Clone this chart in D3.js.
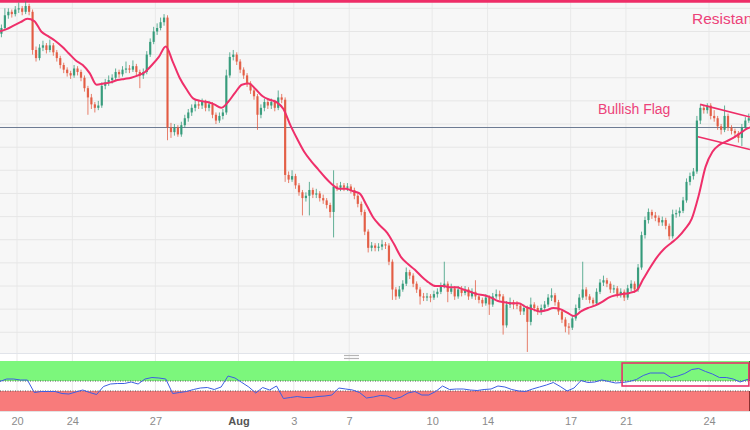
<!DOCTYPE html>
<html>
<head>
<meta charset="utf-8">
<script src="https://cdn.jsdelivr.net/npm/d3@7/dist/d3.min.js"></script>
<style>
    body { margin: 0; background: #ffffff; }
    #chart { width: 750px; height: 430px; }
    text { font-family: "Liberation Sans", Arial, sans-serif; }
</style>
</head>
<body>
<div id="chart"></div>
<script>

/* DATA: 3-hour candles, trading-day index 0 = Jul 20 */
const dayTicks = [0, 2, 5, 8, 10, 12, 15, 17, 20, 22, 25];
const dayLabels = ["20", "24", "27", "Aug", "3", "7", "10", "14", "17", "21", "24"];

const firstOpen = 24.98;
const closes = [
    25.03, 25.14, 25.17, 25.15, 25.19,                              // Jul 19
    25.20, 25.17, 25.22, 25.17, 24.84, 24.77, 24.86, 24.88,         // Jul 20
    24.84, 24.88, 24.82, 24.77, 24.71, 24.67, 24.64, 24.62,         // Jul 21
    24.68, 24.65, 24.60, 24.51, 24.43, 24.37, 24.34, 24.36,         // Jul 24
    24.53, 24.56, 24.58, 24.60, 24.65, 24.63, 24.67, 24.68,         // Jul 25
    24.67, 24.70, 24.65, 24.62, 24.65, 24.80, 24.91, 25.00,         // Jul 26
    25.03, 25.08, 25.12, 24.17, 24.13, 24.17, 24.11, 24.19,         // Jul 27
    24.25, 24.30, 24.34, 24.37, 24.36, 24.39, 24.34, 24.37,         // Jul 28
    24.28, 24.23, 24.27, 24.30, 24.62, 24.78, 24.80, 24.74,         // Jul 31
    24.67, 24.62, 24.55, 24.49, 24.44, 24.28, 24.34, 24.39,         // Aug 1
    24.36, 24.39, 24.34, 24.43, 24.41, 23.76, 23.72, 23.75,         // Aug 2
    23.67, 23.61, 23.56, 23.58, 23.63, 23.59, 23.60, 23.56,         // Aug 3
    23.54, 23.50, 23.44, 23.66, 23.65, 23.67, 23.65, 23.66,         // Aug 4
    23.63, 23.58, 23.51, 23.44, 23.27, 23.13, 23.15, 23.13,         // Aug 7
    23.14, 23.16, 23.15, 23.01, 22.77, 22.71, 22.77, 22.82,         // Aug 8
    22.92, 22.89, 22.82, 22.77, 22.71, 22.70, 22.71, 22.70,         // Aug 9
    22.73, 22.75, 22.80, 22.82, 22.75, 22.78, 22.71, 22.77,         // Aug 10
    22.74, 22.77, 22.71, 22.75, 22.71, 22.68, 22.65, 22.70,         // Aug 11
    22.64, 22.71, 22.73, 22.71, 22.46, 22.64, 22.66, 22.64,         // Aug 14
    22.63, 22.58, 22.61, 22.49, 22.64, 22.61, 22.58, 22.61,         // Aug 15
    22.64, 22.70, 22.72, 22.66, 22.58, 22.51, 22.45, 22.44,         // Aug 16
    22.52, 22.61, 22.70, 22.77, 22.71, 22.68, 22.65, 22.75,         // Aug 17
    22.83, 22.85, 22.82, 22.77, 22.78, 22.73, 22.75, 22.70,         // Aug 18
    22.78, 22.82, 22.77, 22.96, 23.24, 23.37, 23.44, 23.41,         // Aug 21
    23.39, 23.35, 23.37, 23.32, 23.23, 23.42, 23.43, 23.45,         // Aug 22
    23.54, 23.70, 23.75, 23.79, 24.23, 24.34, 24.32, 24.36,         // Aug 23
    24.27, 24.25, 24.18, 24.15, 24.27, 24.17, 24.14, 24.12,         // Aug 24
    24.08, 24.17, 24.23, 24.25                                      // Aug 25
];
const highs = [
    25.06, 25.20, 25.20, 25.19, 25.22,
    25.25, 25.22, 25.26, 25.24, 25.19, 24.87, 24.89, 24.92,
    24.90, 24.93, 24.90, 24.84, 24.79, 24.73, 24.69, 24.66,
    24.71, 24.70, 24.67, 24.62, 24.53, 24.46, 24.39, 24.40,
    24.56, 24.59, 24.62, 24.63, 24.68, 24.67, 24.70, 24.74,
    24.71, 24.75, 24.72, 24.67, 24.68, 24.83, 24.94, 25.04,
    25.07, 25.12, 25.15, 25.14, 24.21, 24.20, 24.19, 24.22,
    24.28, 24.33, 24.37, 24.41, 24.40, 24.42, 24.41, 24.40,
    24.39, 24.30, 24.30, 24.33, 24.67, 24.82, 24.84, 24.82,
    24.76, 24.69, 24.64, 24.57, 24.51, 24.46, 24.37, 24.42,
    24.42, 24.42, 24.41, 24.49, 24.46, 24.43, 23.79, 23.80,
    23.77, 23.69, 23.63, 23.61, 23.70, 23.65, 23.64, 23.62,
    23.59, 23.56, 23.52, 23.80, 23.69, 23.70, 23.69, 23.69,
    23.68, 23.65, 23.60, 23.53, 23.46, 23.29, 23.18, 23.17,
    23.17, 23.20, 23.18, 23.17, 23.03, 22.79, 22.80, 22.85,
    22.96, 22.94, 22.91, 22.84, 22.79, 22.74, 22.74, 22.73,
    22.76, 22.78, 22.83, 23.01, 22.84, 22.82, 22.80, 22.80,
    22.80, 22.80, 22.79, 22.78, 22.85, 22.73, 22.70, 22.73,
    22.72, 22.74, 22.77, 22.76, 22.73, 22.67, 22.70, 22.68,
    22.67, 22.65, 22.64, 22.63, 22.70, 22.66, 22.63, 22.64,
    22.67, 22.73, 22.78, 22.74, 22.68, 22.60, 22.53, 22.48,
    22.55, 22.64, 22.73, 23.01, 22.79, 22.73, 22.70, 22.78,
    22.86, 22.89, 22.87, 22.84, 22.81, 22.80, 22.78, 22.77,
    22.81, 22.85, 22.84, 22.99, 23.27, 23.40, 23.47, 23.46,
    23.44, 23.41, 23.40, 23.39, 23.34, 23.46, 23.46, 23.48,
    23.57, 23.73, 23.78, 23.82, 24.27, 24.37, 24.36, 24.38,
    24.38, 24.32, 24.27, 24.20, 24.36, 24.29, 24.19, 24.16,
    24.14, 24.20, 24.26, 24.29
];
const lows = [
    24.95, 25.01, 25.11, 25.12, 25.13,
    25.16, 25.14, 25.15, 25.14, 24.80, 24.74, 24.75, 24.83,
    24.81, 24.82, 24.79, 24.74, 24.68, 24.64, 24.61, 24.59,
    24.60, 24.62, 24.57, 24.48, 24.28, 24.33, 24.30, 24.32,
    24.34, 24.50, 24.53, 24.55, 24.58, 24.60, 24.61, 24.64,
    24.64, 24.65, 24.62, 24.51, 24.59, 24.63, 24.78, 24.89,
    24.97, 25.01, 25.05, 24.06, 24.08, 24.10, 24.09, 24.09,
    24.17, 24.22, 24.27, 24.31, 24.33, 24.33, 24.31, 24.31,
    24.25, 24.20, 24.21, 24.24, 24.28, 24.60, 24.75, 24.71,
    24.64, 24.59, 24.52, 24.46, 24.41, 24.15, 24.25, 24.31,
    24.33, 24.33, 24.31, 24.32, 24.38, 23.70, 23.69, 23.70,
    23.64, 23.58, 23.41, 23.53, 23.41, 23.56, 23.56, 23.53,
    23.51, 23.47, 23.39, 23.22, 23.62, 23.62, 23.62, 23.62,
    23.60, 23.55, 23.48, 23.41, 23.24, 23.09, 23.10, 23.10,
    23.10, 23.11, 23.12, 22.98, 22.68, 22.68, 22.69, 22.75,
    22.80, 22.86, 22.79, 22.74, 22.64, 22.67, 22.67, 22.66,
    22.68, 22.70, 22.73, 22.78, 22.66, 22.73, 22.68, 22.69,
    22.71, 22.72, 22.68, 22.69, 22.68, 22.65, 22.62, 22.63,
    22.55, 22.62, 22.69, 22.68, 22.38, 22.44, 22.61, 22.60,
    22.60, 22.55, 22.55, 22.23, 22.46, 22.58, 22.55, 22.55,
    22.58, 22.62, 22.67, 22.63, 22.55, 22.48, 22.40, 22.38,
    22.42, 22.50, 22.59, 22.68, 22.68, 22.65, 22.62, 22.63,
    22.73, 22.80, 22.79, 22.74, 22.74, 22.70, 22.70, 22.67,
    22.68, 22.75, 22.74, 22.75, 22.94, 23.21, 23.34, 23.38,
    23.36, 23.32, 23.32, 23.29, 23.20, 23.21, 23.39, 23.40,
    23.43, 23.52, 23.67, 23.72, 23.77, 24.20, 24.29, 24.29,
    24.24, 24.22, 24.15, 24.11, 24.13, 24.14, 24.11, 24.08,
    24.04, 24.01, 24.15, 24.21
];

/* moving average and RSI, 4 readings per day */
const maValues = [
    25.00, 25.02, 25.05, 25.08, 25.11, 25.09, 25.00, 24.96, 24.92, 24.87,
    24.81, 24.75, 24.71, 24.64, 24.54, 24.55, 24.56, 24.58, 24.59, 24.60,
    24.62, 24.65, 24.71, 24.78, 24.87, 24.74, 24.60, 24.50, 24.42, 24.40,
    24.39, 24.37, 24.34, 24.39, 24.47, 24.54, 24.55, 24.50, 24.44, 24.41,
    24.39, 24.33, 24.19, 24.07, 23.96, 23.88, 23.81, 23.74, 23.68, 23.64,
    23.64, 23.62, 23.60, 23.50, 23.39, 23.32, 23.26, 23.16, 23.05, 22.99,
    22.94, 22.88, 22.83, 22.80, 22.80, 22.79, 22.79, 22.77, 22.75, 22.73,
    22.72, 22.70, 22.67, 22.66, 22.65, 22.65, 22.62, 22.60, 22.58, 22.59,
    22.61, 22.60, 22.57, 22.54, 22.58, 22.61, 22.63, 22.66, 22.70, 22.72,
    22.73, 22.74, 22.76, 22.86, 22.96, 23.05, 23.12, 23.17, 23.22, 23.29,
    23.38, 23.58, 23.83, 23.96, 24.02, 24.05, 24.08, 24.12, 24.16, 24.18
];
const rsiValues = [
    59, 64, 64, 62, 62, 37, 39, 39, 39, 35,
    34, 38, 42, 37, 33, 49, 54, 55, 55, 58,
    54, 64, 67, 66, 64, 35, 37, 39, 43, 46,
    47, 43, 48, 70, 66, 57, 48, 36, 47, 42,
    50, 25, 27, 29, 27, 27, 29, 30, 32, 46,
    44, 42, 37, 26, 28, 31, 30, 24, 28, 36,
    39, 32, 32, 39, 50, 43, 44, 44, 42, 41,
    43, 44, 50, 48, 43, 40, 39, 44, 48, 52,
    57, 49, 40, 46, 61, 57, 58, 62, 59, 56,
    57, 59, 63, 71, 76, 76, 76, 67, 70, 75,
    83, 85, 79, 74, 67, 67, 64, 58, 63, 63
];

/* annotations */
const resistanceLevel = 25.26;
const pivotLevel = 24.17;
const flagTop = [[24.68, 24.37], [26.48, 24.26]];
const flagBottom = [[24.60, 24.09], [26.48, 23.98]];
const rsiBoxDays = [21.86, 26.44];
const rsiBoxLevels = [50, 96];
const rsiBands = [40, 60];

/* DIMENSIONS */
const width = 750;
const height = 430;
const mainBottom = 353;
const rsiTop = 361;
const rsiBottom = 411;
const candleStart = -0.625;
const candlesPerDay = 8;
const indicatorStep = 0.25;

const svg = d3.select("#chart")
    .append("svg")
    .attr("width", width)
    .attr("height", height);

/* SCALES */
const xScale = d3.scaleLinear().domain([0, 25]).range([17, 709]);
const yScale = d3.scaleLinear().domain([22.221, 25.272]).range([mainBottom, 0]);
const rsiScale = d3.scaleLinear().domain([0, 100]).range([rsiBottom, rsiTop]);

/* BACKGROUND + GRID */
svg.append("rect")
    .attr("x", 0).attr("y", 0)
    .attr("width", width).attr("height", mainBottom)
    .attr("fill", "#f7f7f7");

svg.selectAll(".vgrid")
    .data(dayTicks)
    .enter()
    .append("line")
    .attr("x1", d => xScale(d)).attr("x2", d => xScale(d))
    .attr("y1", 0).attr("y2", rsiBottom)
    .attr("stroke", "#e9e9e9")
    .attr("stroke-width", 1);

svg.selectAll(".hgrid")
    .data(d3.range(22.4, 25.21, 0.2))
    .enter()
    .append("line")
    .attr("x1", 0).attr("x2", width)
    .attr("y1", d => yScale(d)).attr("y2", d => yScale(d))
    .attr("stroke", "#e6e6e6")
    .attr("stroke-width", 1);

svg.append("line")
    .attr("x1", 0).attr("x2", width)
    .attr("y1", mainBottom + 0.5).attr("y2", mainBottom + 0.5)
    .attr("stroke", "#e1e4ea");

// pane resize handle
[355.5, 358.5].forEach(function(y) {
    svg.append("line")
        .attr("x1", 344).attr("x2", 359)
        .attr("y1", y).attr("y2", y)
        .attr("stroke", "#b5b5b5")
        .attr("stroke-width", 1.2);
});

/* CLIP FOR PRICE PANE */
svg.append("clipPath").attr("id", "mainClip")
    .append("rect")
    .attr("x", 0).attr("y", 0)
    .attr("width", width).attr("height", mainBottom);

const main = svg.append("g").attr("clip-path", "url(#mainClip)");

/* RESISTANCE + PIVOT LINES */
main.append("line")
    .attr("x1", 0).attr("x2", width)
    .attr("y1", yScale(resistanceLevel)).attr("y2", yScale(resistanceLevel))
    .attr("stroke", "#ee2d67")
    .attr("stroke-width", 2.6);

main.append("line")
    .attr("x1", 0).attr("x2", width)
    .attr("y1", yScale(pivotLevel)).attr("y2", yScale(pivotLevel))
    .attr("stroke", "#6d7b93")
    .attr("stroke-width", 1);

/* DRAW CANDLES */
const candles = closes.map(function(c, i) {
    return {
        t: candleStart + (i + 0.5) / candlesPerDay,
        o: i === 0 ? firstOpen : closes[i - 1],
        h: highs[i],
        l: lows[i],
        c: c
    };
});

const upColor = "#2f9877";
const downColor = "#e2583e";

main.selectAll(".wick")
    .data(candles)
    .enter()
    .append("line")
    .attr("x1", d => xScale(d.t)).attr("x2", d => xScale(d.t))
    .attr("y1", d => yScale(d.h)).attr("y2", d => yScale(d.l))
    .attr("stroke", d => d.c >= d.o ? upColor : downColor)
    .attr("stroke-width", 1)
    .attr("opacity", 0.75);

main.selectAll(".body")
    .data(candles)
    .enter()
    .append("rect")
    .attr("x", d => xScale(d.t) - 1.1)
    .attr("width", 2.2)
    .attr("y", d => yScale(Math.max(d.o, d.c)))
    .attr("height", d => Math.max(1, Math.abs(yScale(d.o) - yScale(d.c))))
    .attr("fill", d => d.c >= d.o ? upColor : downColor)
    .attr("opacity", 0.9);

/* MOVING AVERAGE */
const maLine = d3.line()
    .x((d, i) => xScale(candleStart + i * indicatorStep))
    .y(d => yScale(d))
    .curve(d3.curveMonotoneX);

main.append("path")
    .datum(maValues)
    .attr("d", maLine)
    .attr("fill", "none")
    .attr("stroke", "#ef2f6a")
    .attr("stroke-width", 2);

/* BULLISH FLAG */
[flagTop, flagBottom].forEach(function(seg) {
    main.append("line")
        .attr("x1", xScale(seg[0][0])).attr("y1", yScale(seg[0][1]))
        .attr("x2", xScale(seg[1][0])).attr("y2", yScale(seg[1][1]))
        .attr("stroke", "#ee2d67")
        .attr("stroke-width", 1.6);
});

svg.append("text")
    .attr("x", 598).attr("y", 114)
    .attr("font-size", 14)
    .attr("fill", "#ec4279")
    .text("Bullish Flag");

svg.append("text")
    .attr("x", 692).attr("y", 24)
    .attr("font-size", 15.5)
    .attr("fill", "#ec4279")
    .text("Resistance");

/* RSI PANE */
svg.append("rect")
    .attr("x", 0).attr("y", rsiScale(100))
    .attr("width", width).attr("height", rsiScale(rsiBands[1]) - rsiScale(100))
    .attr("fill", "#7cf77c");

svg.append("rect")
    .attr("x", 0).attr("y", rsiScale(rsiBands[0]))
    .attr("width", width).attr("height", rsiScale(0) - rsiScale(rsiBands[0]))
    .attr("fill", "#f87b7b");

svg.append("line")
    .attr("x1", 749.5).attr("x2", 749.5)
    .attr("y1", rsiScale(100)).attr("y2", rsiScale(rsiBands[1]))
    .attr("stroke", "#2f7a2f");
svg.append("line")
    .attr("x1", 749.5).attr("x2", 749.5)
    .attr("y1", rsiScale(rsiBands[0])).attr("y2", rsiScale(0))
    .attr("stroke", "#8a3030");

rsiBands.forEach(function(level) {
    svg.append("line")
        .attr("x1", 0).attr("x2", width)
        .attr("y1", rsiScale(level)).attr("y2", rsiScale(level))
        .attr("stroke", "#555")
        .attr("stroke-width", 1)
        .attr("stroke-dasharray", "1,1.5");
});

svg.append("line")
    .attr("x1", 0).attr("x2", width)
    .attr("y1", rsiBottom + 0.5).attr("y2", rsiBottom + 0.5)
    .attr("stroke", "#e3e3e3");

const rsiLine = d3.line()
    .x((d, i) => xScale(candleStart + i * indicatorStep))
    .y(d => rsiScale(d));

svg.append("path")
    .datum(rsiValues)
    .attr("d", rsiLine)
    .attr("fill", "none")
    .attr("stroke", "#3d5ee2")
    .attr("stroke-width", 1);

svg.append("rect")
    .attr("x", xScale(rsiBoxDays[0]))
    .attr("y", rsiScale(rsiBoxLevels[1]))
    .attr("width", xScale(rsiBoxDays[1]) - xScale(rsiBoxDays[0]))
    .attr("height", rsiScale(rsiBoxLevels[0]) - rsiScale(rsiBoxLevels[1]))
    .attr("fill", "none")
    .attr("stroke", "#e8336b")
    .attr("stroke-width", 1.6);

/* X AXIS */
const xAxis = svg.append("g")
    .attr("transform", `translate(0,${rsiBottom + 3})`)
    .call(d3.axisBottom(xScale)
        .tickValues(dayTicks)
        .tickFormat((d, i) => dayLabels[i])
        .tickSize(0));

xAxis.select(".domain").remove();
xAxis.selectAll("text")
    .attr("font-family", "'Liberation Sans', Arial, sans-serif")
    .attr("font-size", 11)
    .attr("fill", (d, i) => dayLabels[i] === "Aug" ? "#555" : "#8c8c8c")
    .attr("font-weight", (d, i) => dayLabels[i] === "Aug" ? "bold" : "normal");

</script>
</body>
</html>
